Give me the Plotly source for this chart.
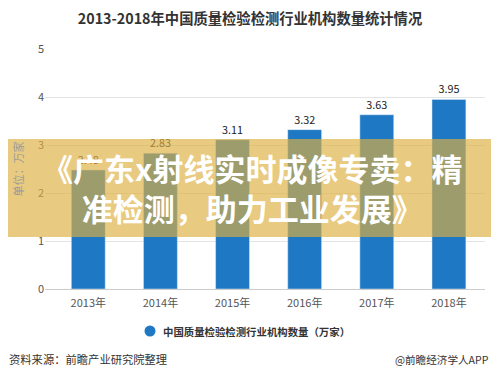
import plotly.graph_objects as go

years = ["2013年", "2014年", "2015年", "2016年", "2017年", "2018年"]
values = [2.48, 2.83, 3.11, 3.32, 3.63, 3.95]
series_name = "中国质量检验检测行业机构数量（万家）"
title_text = "2013-2018年中国质量检验检测行业机构数量统计情况"
banner_text = "《广东x射线实时成像专卖：精<br>准检测，助力工业发展》"
source_text = "资料来源：前瞻产业研究院整理"
brand_text = "@前瞻经济学人APP"

CJK = "Noto Sans CJK SC"
BLUE = "#1E78C3"

# page has an 8px body margin; lay out in screen pixels and shift
OFF = 8
W, H = 499 - OFF, 378 - OFF
PL, PR, PT, PB = 45, 485, 49, 289  # plot area in screen pixels
L, R = PL - OFF, W - (PR - OFF)
T, B = PT - OFF, H - (PB - OFF)
pw, ph = W - L - R, H - T - B

def px_x(p):
    return (p - OFF - L) / pw

def px_y(p):
    return (H - B - (p - OFF)) / ph

fig = go.Figure()
fig.add_trace(go.Bar(
    x=years, y=values, marker_color=BLUE, width=0.47, name=series_name,
    text=[f"{v:.2f}" for v in values], textposition="outside",
    textfont=dict(family=CJK, size=10.8, color="#222222"),
    cliponaxis=False, showlegend=False,
))

fig.update_layout(
    width=W, height=H,
    margin=dict(l=L, r=R, t=T, b=B, autoexpand=False),
    paper_bgcolor="white", plot_bgcolor="white",
    font=dict(family=CJK, color="#666666", size=11),
    title=dict(text="<b>" + title_text + "</b>", xref="container", x=(250 - OFF) / W,
               xanchor="center", yref="container", y=1 - (18.5 - OFF) / H, yanchor="middle",
               font=dict(family=CJK, size=14.3, color="#333333")),
    xaxis=dict(range=[-0.6, 5.5], showgrid=False, showline=True, linecolor="#cccccc",
               automargin=False,
               ticks="", ticklabelstandoff=4, tickfont=dict(size=11, color="#555555")),
    yaxis=dict(range=[0, 5], dtick=1, showgrid=True, gridcolor="#e4e4e4", zeroline=False,
               automargin=False,
               showline=False, ticks="", tickfont=dict(size=11, color="#555555"),
               title=dict(text="单位：万家", font=dict(size=11, color="#9a9a9a"), standoff=12)),
    showlegend=False,
)

# legend (circle marker + label)
r_px = 5.5
fig.add_shape(type="circle", xref="paper", yref="paper",
              x0=px_x(150 - r_px), x1=px_x(150 + r_px),
              y0=px_y(331 + r_px), y1=px_y(331 - r_px),
              fillcolor=BLUE, line=dict(width=0))
fig.add_annotation(text="<b>" + series_name + "</b>", xref="paper", yref="paper",
                   x=px_x(161), y=px_y(331), xanchor="left", yanchor="middle",
                   showarrow=False, font=dict(family=CJK, size=10.4, color="#333333"))

fig.add_shape(type="rect", xref="paper", yref="paper",
              x0=px_x(-2), x1=px_x(505), y0=px_y(237), y1=px_y(139),
              fillcolor="rgba(222,174,64,0.66)", line=dict(width=0), layer="above")

fig.add_annotation(text="<b>" + banner_text + "</b>", xref="paper", yref="paper",
                   x=px_x(252), y=px_y(187.5), xanchor="center", yanchor="middle",
                   showarrow=False, align="center",
                   font=dict(family=CJK, size=31, color="white"))

fig.add_annotation(text=source_text, xref="paper", yref="paper",
                   x=px_x(7), y=px_y(359), xanchor="left", yanchor="middle",
                   showarrow=False, font=dict(family=CJK, size=11.3, color="#333333"))
fig.add_annotation(text=brand_text, xref="paper", yref="paper",
                   x=px_x(491), y=px_y(359), xanchor="right", yanchor="middle",
                   showarrow=False, font=dict(family=CJK, size=10.6, color="#333333"))

fig.write_html("out.html")
